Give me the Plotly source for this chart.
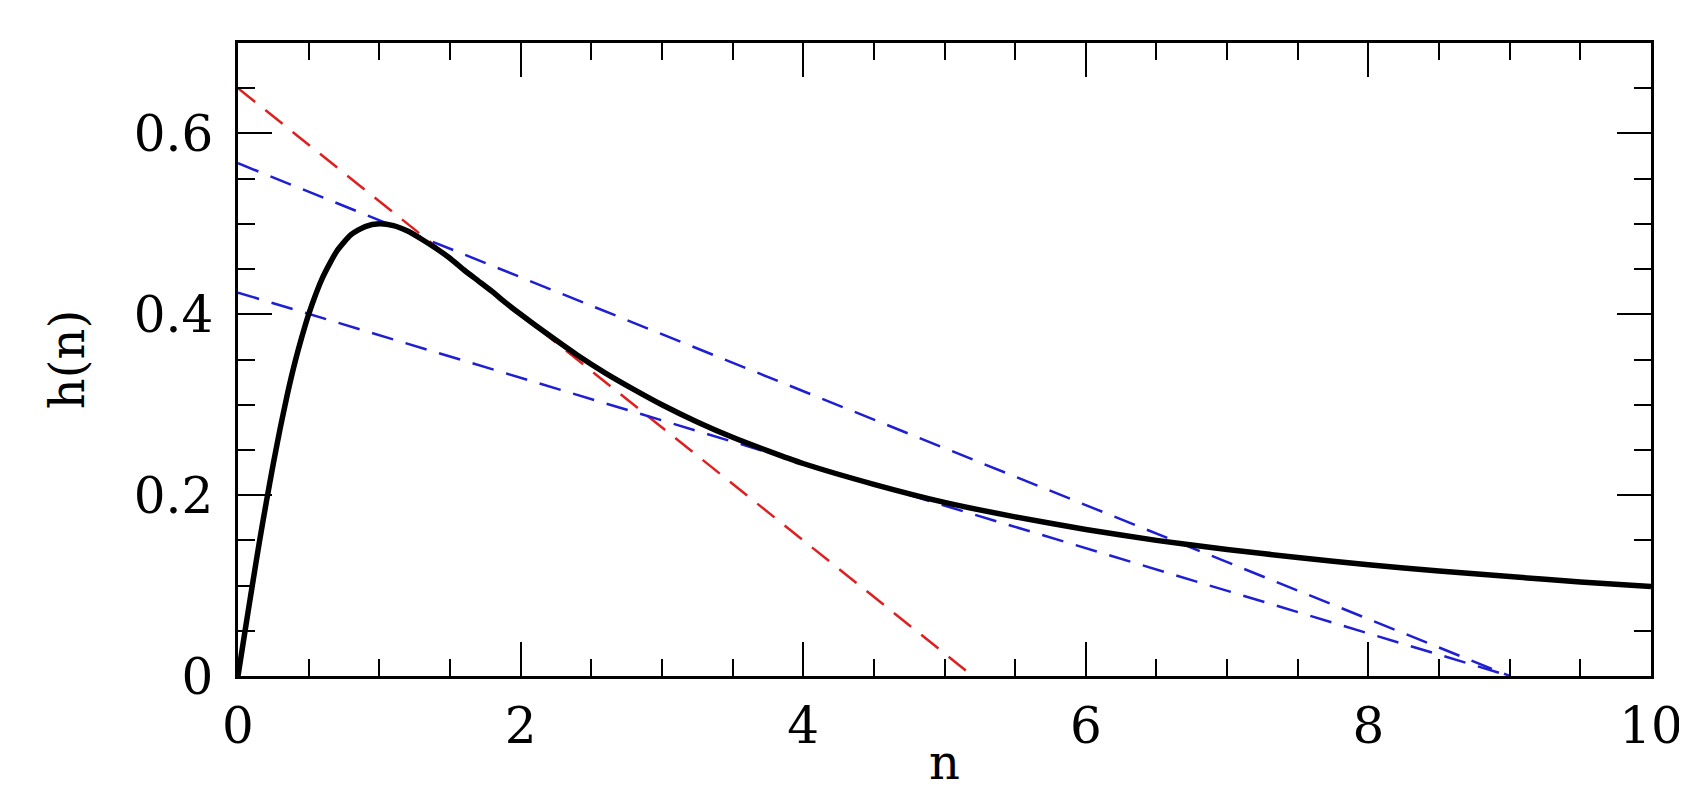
import plotly.graph_objects as go

# h(n) curve, values
n_vals = [0, 0.05, 0.1, 0.15, 0.2, 0.25, 0.3, 0.35, 0.4, 0.45, 0.5, 0.6, 0.7,
          0.8, 0.9, 1.0, 1.1, 1.2, 1.3, 1.4, 1.5, 1.6, 1.7, 1.8, 1.9, 2.0,
          2.2, 2.4, 2.6, 2.8, 3.0, 3.25, 3.5, 3.75, 4.0, 4.5, 5.0, 5.5, 6.0,
          6.5, 7.0, 7.5, 8.0, 8.5, 9.0, 9.5, 10.0]
h_vals = [0, 0.050, 0.099, 0.147, 0.192, 0.235, 0.275, 0.312, 0.345, 0.374,
          0.400, 0.441, 0.470, 0.488, 0.497, 0.500, 0.498, 0.492, 0.483,
          0.473, 0.462, 0.449, 0.437, 0.425, 0.412, 0.400, 0.377, 0.355,
          0.335, 0.317, 0.300, 0.281, 0.264, 0.249, 0.235, 0.212, 0.192,
          0.176, 0.162, 0.150, 0.140, 0.131, 0.123, 0.116, 0.110, 0.104, 0.099]

# dashed straight lines (end points)
red_x = [0, 5.2]
red_y = [0.65, 0]
blue1_x = [0, 9.0]
blue1_y = [0.567, 0]
blue2_x = [0, 9.0]
blue2_y = [0.424, 0]

FONT = "DejaVu Serif"
DASH = "22px,13px"

fig = go.Figure()
fig.add_trace(go.Scatter(x=red_x, y=red_y, mode="lines",
                         line=dict(color="rgb(225,30,30)", width=2.5, dash=DASH)))
fig.add_trace(go.Scatter(x=blue1_x, y=blue1_y, mode="lines",
                         line=dict(color="rgb(30,30,210)", width=2.5, dash=DASH)))
fig.add_trace(go.Scatter(x=blue2_x, y=blue2_y, mode="lines",
                         line=dict(color="rgb(30,30,210)", width=2.5, dash=DASH)))
fig.add_trace(go.Scatter(x=n_vals, y=h_vals, mode="lines", line_shape="spline",
                         line=dict(color="black", width=5.5, smoothing=0.6)))

axis_common = dict(showgrid=False, zeroline=False, showline=True, linecolor="black",
                   linewidth=2.5, ticks="inside", ticklen=34, tickwidth=2,
                   tickcolor="black", mirror="allticks", ticklabeloverflow="allow",
                   tickfont=dict(family=FONT, size=50, color="black"))

fig.update_xaxes(range=[0, 10], tickvals=[0, 2, 4, 6, 8, 10],
                 ticktext=["0", "2", "4", "6", "8", "10"],
                 minor=dict(dtick=0.5, ticks="inside", ticklen=17, tickwidth=2,
                            tickcolor="black"),
                 ticklabelstandoff=4,
                 **axis_common)
fig.update_yaxes(range=[0, 0.7], tickvals=[0, 0.2, 0.4, 0.6],
                 ticktext=["0", "0.2", "0.4", "0.6"],
                 minor=dict(dtick=0.05, ticks="inside", ticklen=17, tickwidth=2,
                            tickcolor="black"),
                 ticklabelstandoff=12,
                 title=dict(text="h(n)", font=dict(family=FONT, size=48, color="black"),
                            standoff=34),
                 **axis_common)

# x title as annotation so it sits close to the bottom edge like the original
fig.add_annotation(text="n", xref="paper", yref="paper", x=0.5, y=-116 / 633,
                   xanchor="center", yanchor="bottom", showarrow=False,
                   font=dict(family=FONT, size=48, color="black"))

fig.update_layout(width=1687, height=790, showlegend=False,
                  plot_bgcolor="white", paper_bgcolor="white",
                  margin=dict(l=230, r=25, t=35, b=122))

fig.write_html("out.html")
